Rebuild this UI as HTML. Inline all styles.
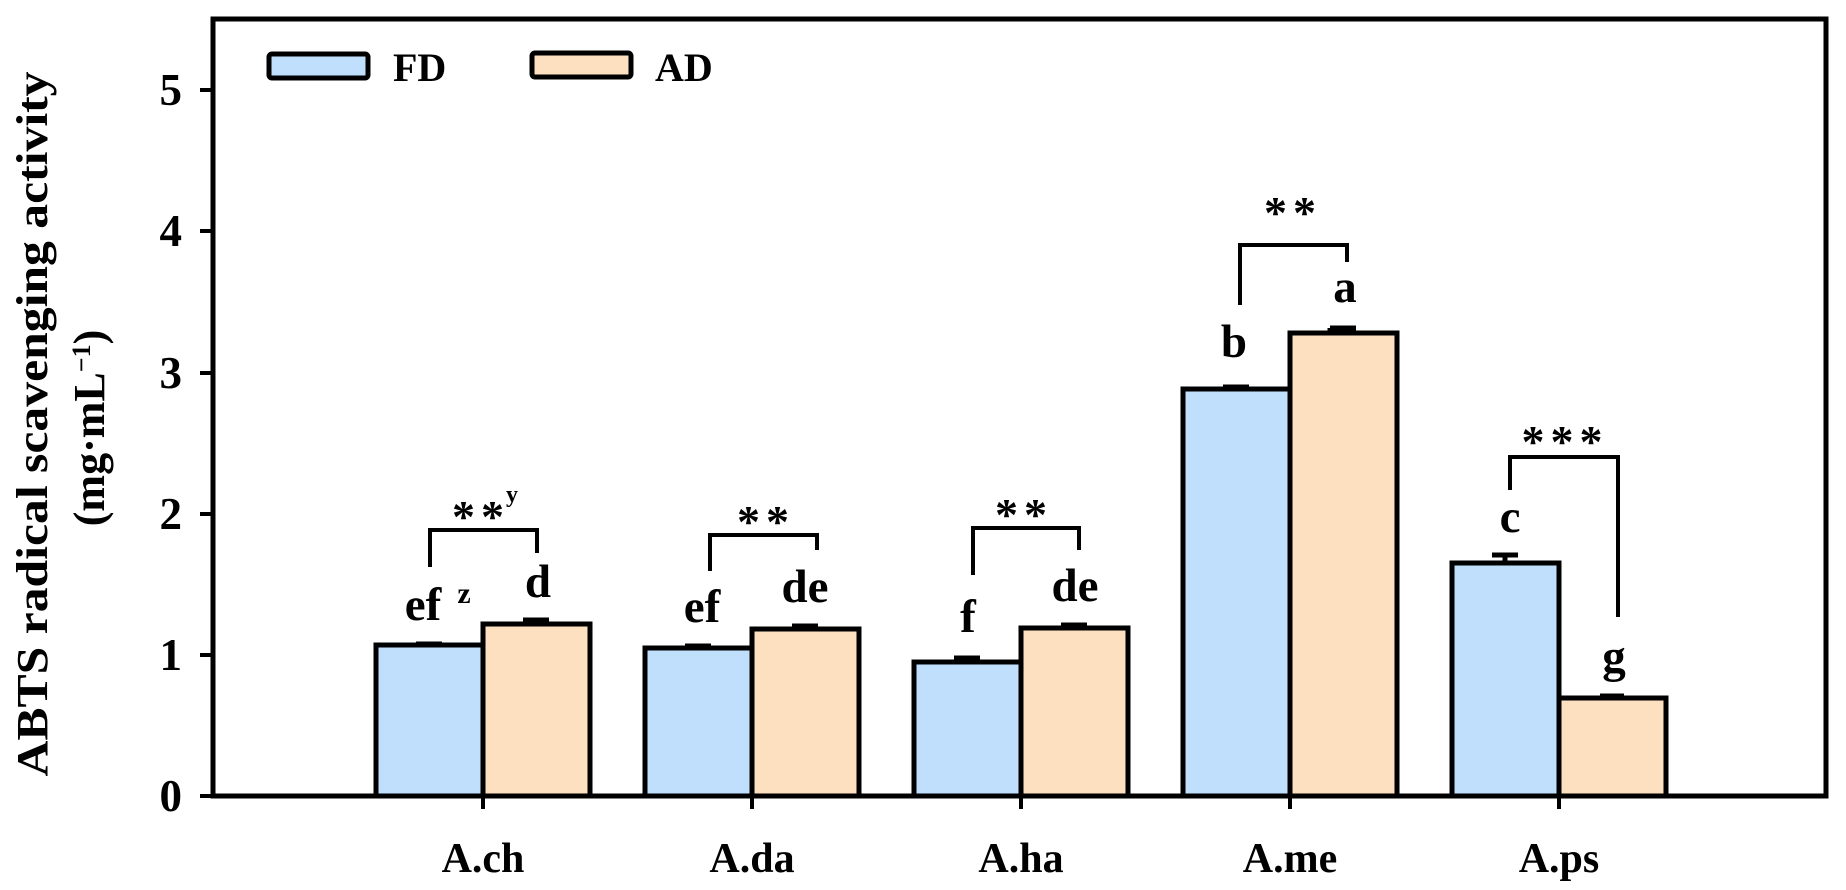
<!DOCTYPE html>
<html><head><meta charset="utf-8"><style>
html,body{margin:0;padding:0;background:#fff;}
svg{display:block;}
text{font-family:"Liberation Serif",serif;font-weight:bold;fill:#000;}
</style></head><body>
<svg width="1846" height="890" viewBox="0 0 1846 890" xmlns="http://www.w3.org/2000/svg">
<rect x="269" y="54" width="99" height="24" rx="3" fill="#c0dffc" stroke="#000" stroke-width="5"/>
<text x="393" y="81" font-size="40">FD</text>
<rect x="532" y="53" width="99" height="24" rx="3" fill="#fde0c0" stroke="#000" stroke-width="5"/>
<text x="655" y="81" font-size="40">AD</text>

<g stroke="#000" stroke-width="5">
<rect x="376" y="645" width="107" height="151" fill="#c0dffc"/>
<rect x="483" y="624" width="107" height="172" fill="#fde0c0"/>
<rect x="645" y="648" width="107" height="148" fill="#c0dffc"/>
<rect x="752" y="629" width="107" height="167" fill="#fde0c0"/>
<rect x="914" y="662" width="107" height="134" fill="#c0dffc"/>
<rect x="1021" y="628" width="107" height="168" fill="#fde0c0"/>
<rect x="1183" y="389" width="107" height="407" fill="#c0dffc"/>
<rect x="1290" y="333" width="107" height="463" fill="#fde0c0"/>
<rect x="1452" y="563" width="107" height="233" fill="#c0dffc"/>
<rect x="1559" y="698" width="107" height="98" fill="#fde0c0"/>
</g>
<g stroke="#000" stroke-width="5" fill="none">
<path d="M416 644h26 M523 620h26 M685 646h26 M792 626h26 M954 658h26 M1061 625h26 M1223 387h26 M1330 328h26 M1330 328v5 M1492 555h26 M1505 555v8 M1600 696h24"/>
</g>

<rect x="213" y="19" width="1613" height="777" fill="none" stroke="#000" stroke-width="5"/>
<g stroke="#000" stroke-width="4">
<path d="M200 796h13 M200 655h13 M200 514h13 M200 373h13 M200 231h13 M200 90h13"/>
<path d="M483 796v13 M752 796v13 M1021 796v13 M1290 796v13 M1559 796v13"/>
</g>
<g font-size="45" text-anchor="end">
<text x="182" y="811">0</text>
<text x="182" y="670">1</text>
<text x="182" y="529">2</text>
<text x="182" y="388">3</text>
<text x="182" y="246">4</text>
<text x="182" y="105">5</text>
</g>
<g font-size="42" text-anchor="middle">
<text x="483" y="872">A.ch</text>
<text x="752" y="872">A.da</text>
<text x="1021" y="872">A.ha</text>
<text x="1290" y="872">A.me</text>
<text x="1559" y="872">A.ps</text>
</g>
<text transform="translate(47,424) rotate(-90)" font-size="44" text-anchor="middle" textLength="705" lengthAdjust="spacingAndGlyphs">ABTS radical scavenging activity</text>
<text transform="translate(104,428) rotate(-90)" font-size="44" text-anchor="middle">(mg·mL<tspan dy="-14" font-size="26">−1</tspan><tspan dy="14">)</tspan></text>

<g stroke="#000" stroke-width="4" fill="none">
<path d="M430 567V530H537V553"/>
<path d="M710 571V535H817V550"/>
<path d="M973 575V528H1079V550"/>
<path d="M1240 305V245H1347V262"/>
<path d="M1510 490V457H1618V617"/>
</g>
<g font-size="46" text-anchor="middle" letter-spacing="6">
<text x="481" y="532">**</text><text x="512" y="502" font-size="24" letter-spacing="0">y</text>
<text x="766" y="537">**</text>
<text x="1024" y="530">**</text>
<text x="1293" y="228">**</text>
<text x="1565" y="457">***</text>
</g>
<g font-size="47" text-anchor="middle">
<text x="423" y="620">ef</text><text x="464" y="603" font-size="30">z</text>
<text x="538" y="597">d</text>
<text x="702" y="622">ef</text>
<text x="805" y="602">de</text>
<text x="968" y="632">f</text>
<text x="1075" y="601">de</text>
<text x="1234" y="357">b</text>
<text x="1345" y="302">a</text>
<text x="1510" y="532">c</text>
<text x="1614" y="672">g</text>
</g>
</svg>
</body></html>
